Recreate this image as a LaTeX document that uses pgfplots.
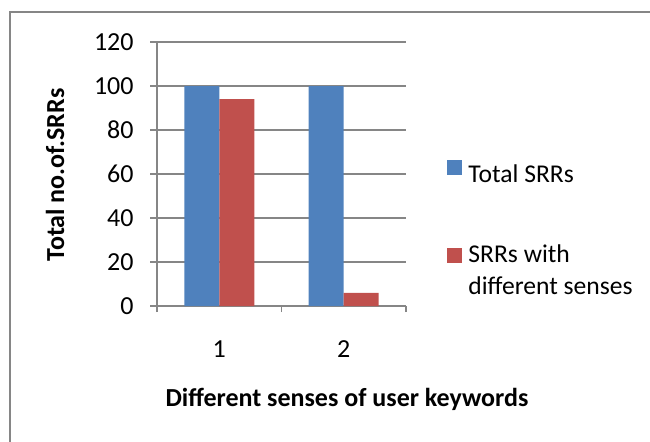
\documentclass[border=0pt]{standalone}
\usepackage{fontspec}
\setmainfont{Carlito}
\usepackage{pgfplots}
\pgfplotsset{compat=1.18}
\definecolor{cblue}{HTML}{4F81BD}
\definecolor{cred}{HTML}{C0504D}
\definecolor{cgrid}{HTML}{868686}
\begin{document}
\fontsize{13}{16}\selectfont
\begin{tikzpicture}
\useasboundingbox (0,0) rectangle (325pt,-220.5pt);
\draw[cgrid, line width=0.7pt] (5pt,-221pt) -- (5pt,-6pt) -- (326pt,-6pt);
\begin{axis}[
  at={(78.5pt,-153pt)}, anchor=south west,
  width=124.5pt, height=132pt, scale only axis,
  ybar=0pt, bar width=17.5pt,
  xmin=0.5, xmax=2.5, ymin=0, ymax=120,
  ytick={0,20,...,120},
  xtick={1,2}, minor xtick={0.5,1.5,2.5},
  major x tick style={draw=none},
  axis x line*=bottom, axis y line*=left,
  every outer x axis line/.append style={-},
  every outer y axis line/.append style={-},
  axis line style={cgrid, line width=0.7pt, -},
  ymajorgrids, grid style={cgrid, line width=0.7pt},
  tick style={cgrid, line width=0.7pt},
  tick align=outside, major tick length=3.5pt, minor tick length=3pt,
  /pgf/number format/assume math mode=true,
  yticklabel style={xshift=-3.7pt, font=\fontsize{13}{16}\selectfont},
  xticklabel style={yshift=-9.5pt, font=\fontsize{13}{16}\selectfont},
  legend cell align=left,
  legend style={at={(1.1647,0.556)}, anchor=north west, draw=none, fill=none,
    inner sep=0pt, column sep=3pt, row sep=29.3pt,
    font=\fontsize{12.8}{16}\selectfont,
    nodes={inner sep=0pt, align=left}},
]
\addplot[fill=cblue, draw=none,
  legend image code/.code={\fill[cblue] (0pt,0.45pt) rectangle (7.5pt,7.95pt);}]
  coordinates {(1,100) (2,100)};
\addplot[fill=cred, draw=none,
  legend image code/.code={\fill[cred] (0pt,4.45pt) rectangle (7.5pt,11.95pt);}]
  coordinates {(1,94) (2,6)};
\legend{Total SRRs, SRRs with\\different senses}
\end{axis}
\node[font=\bfseries\fontsize{13}{16}\selectfont] at (173.5pt,-199.5pt) {Different senses of user keywords};
\node[font=\bfseries\fontsize{13}{16}\selectfont, rotate=90] at (27.5pt,-87.5pt) {Total no.of.SRRs};
\end{tikzpicture}
\end{document}
